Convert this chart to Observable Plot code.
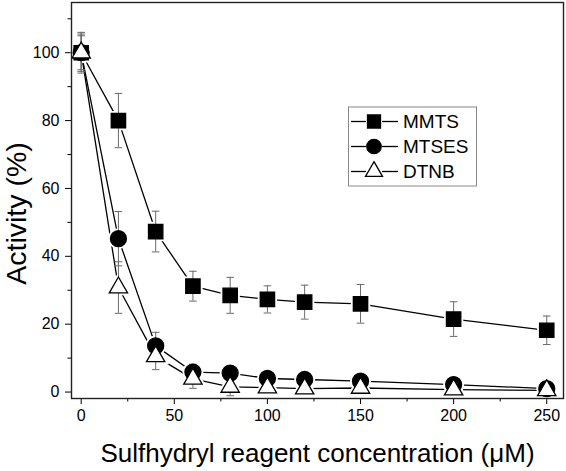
<!DOCTYPE html>
<html>
<head>
<meta charset="utf-8">
<script src="https://cdn.jsdelivr.net/npm/d3@7"></script>
<script src="https://cdn.jsdelivr.net/npm/@observablehq/plot@0.6"></script>
<style>
  html, body { margin: 0; padding: 0; background: #fff; }
  svg { display: block; }
</style>
</head>
<body>
<div id="chart"></div>
<script>
// ---- data ----
const concentrations = [0, 20, 40, 60, 80, 100, 120, 150, 200, 250];
const mmtsActivity   = [100, 80, 47.3, 31.2, 28.5, 27.3, 26.5, 26, 21.5, 18.2];
const mmtsError      = [6, 8, 6, 4.4, 5.3, 4, 5, 5.7, 5.1, 4.2];
const mtsesActivity  = [100, 45.2, 13.6, 5.9, 5.6, 4.0, 3.7, 3.2, 2.2, 1.0];
const mtsesError     = [5, 8, 4, 2.3, 1.5, 1, 1, 1, 1, 0.8];
const dtnbActivity   = [100, 30.8, 10.5, 3.9, 1.5, 1.3, 1.0, 1.2, 0.7, 0.5];
const dtnbError      = [5.5, 7.6, 3.9, 2.8, 2.6, 1, 1, 1, 0.6, 0.5];
const seriesNames    = ["MMTS", "MTSES", "DTNB"];
const xMajorTicks    = [0, 50, 100, 150, 200, 250];
const xMinorTicks    = [25, 75, 125, 175, 225];
const yMajorTicks    = [0, 20, 40, 60, 80, 100];
const yMinorTicks    = [10, 30, 50, 70, 90, 110];
const xTitle = "Sulfhydryl reagent concentration (\u03bcM)";
const yTitle = "Activity (%)";

// ---- styling per series ----
const seriesStyle = {
  MMTS:  {symbol: "square",   r: 8.1, fill: "black", legendType: d3.symbolSquare,   legendSize: 13 * 13},
  MTSES: {symbol: "circle",   r: 8.0, fill: "black", legendType: d3.symbolCircle,   legendSize: Math.PI * 7.2 * 7.2},
  DTNB:  {symbol: "triangle", r: 6.8, fill: "white", legendType: d3.symbolTriangle, legendSize: 17 * 17 * Math.sqrt(3) / 4}
};
const seriesData = {MMTS: [mmtsActivity, mmtsError], MTSES: [mtsesActivity, mtsesError], DTNB: [dtnbActivity, dtnbError]};

const rows = seriesNames.flatMap(name =>
  concentrations.map((x, i) => {
    const [v, e] = seriesData[name];
    return {series: name, x, y: v[i], lo: v[i] - e[i], hi: v[i] + e[i]};
  })
);

const capSymbol = {draw(ctx) { ctx.moveTo(-3.8, 0); ctx.lineTo(3.8, 0); }};
const errColor = "#6a6a6a";

const marks = [
  Plot.axisX({ticks: xMajorTicks, tickSize: 6, tickPadding: 5, fontSize: 16, label: null}),
  Plot.axisX({ticks: xMinorTicks, tickSize: 3.5, tickFormat: () => "", label: null}),
  Plot.axisY({ticks: yMajorTicks, tickSize: 6, tickPadding: 6, fontSize: 16, label: null}),
  Plot.axisY({ticks: yMinorTicks, tickSize: 3.5, tickFormat: () => "", label: null}),
  Plot.line(rows, {x: "x", y: "y", z: "series", stroke: "black", strokeWidth: 1.3}),
  ...seriesNames.map(name => Plot.dot(rows.filter(d => d.series === name), {
    x: "x", y: "y", symbol: seriesStyle[name].symbol, r: seriesStyle[name].r,
    fill: "white", stroke: "white", strokeWidth: 5
  })),
  Plot.ruleX(rows, {x: "x", y1: "lo", y2: "hi", stroke: errColor, strokeWidth: 1}),
  Plot.dot(rows, {x: "x", y: "lo", symbol: capSymbol, stroke: errColor, strokeWidth: 1, fill: "none"}),
  Plot.dot(rows, {x: "x", y: "hi", symbol: capSymbol, stroke: errColor, strokeWidth: 1, fill: "none"}),
  ...seriesNames.map(name => Plot.dot(rows.filter(d => d.series === name), {
    x: "x", y: "y", symbol: seriesStyle[name].symbol, r: seriesStyle[name].r,
    fill: seriesStyle[name].fill, stroke: "black", strokeWidth: 1.3
  })),
  Plot.frame({stroke: "#222", strokeWidth: 1.4}),
  Plot.text([xTitle], {frameAnchor: "bottom", textAnchor: "middle", lineAnchor: "middle", dy: 55, fontSize: 26, text: d => d}),
  Plot.text([yTitle], {frameAnchor: "left", textAnchor: "middle", lineAnchor: "middle", dx: -55, dy: 13, rotate: -90, fontSize: 28.5, text: d => d})
];

const chart = Plot.plot({
  width: 566,
  height: 471,
  marginLeft: 71,
  marginRight: 3,
  marginTop: 2,
  marginBottom: 73,
  style: {fontFamily: "'Liberation Sans', Arial, Helvetica, sans-serif", fontSize: "16px", color: "black", background: "white"},
  x: {type: "linear", domain: [-5.2, 259], label: null},
  y: {type: "linear", domain: [-1.9, 114.8], label: null},
  marks
});

// ---- legend box inside the plot ----
const svg = d3.select(chart);
const lg = svg.append("g").attr("class", "legend").attr("text-anchor", "start");
lg.append("rect").attr("x", 348.5).attr("y", 107).attr("width", 128).attr("height", 79)
  .attr("fill", "white").attr("stroke", "#888").attr("stroke-width", 1);
const rowY = [121.5, 146.5, 171.5];
seriesNames.forEach((name, i) => {
  const y = rowY[i];
  const st = seriesStyle[name];
  lg.append("line").attr("x1", 351).attr("x2", 366).attr("y1", y).attr("y2", y).attr("stroke", "black").attr("stroke-width", 1.3);
  lg.append("line").attr("x1", 382).attr("x2", 398).attr("y1", y).attr("y2", y).attr("stroke", "black").attr("stroke-width", 1.3);
  lg.append("path").attr("transform", `translate(374,${y})`)
    .attr("d", d3.symbol().type(st.legendType).size(st.legendSize)())
    .attr("fill", st.fill).attr("stroke", "black").attr("stroke-width", 1.3);
  lg.append("text").attr("x", 403).attr("y", y).attr("dy", "0.35em")
    .attr("text-anchor", "start").attr("font-size", 19).attr("fill", "black").text(name);
});

document.getElementById("chart").appendChild(chart);
</script>
</body>
</html>
